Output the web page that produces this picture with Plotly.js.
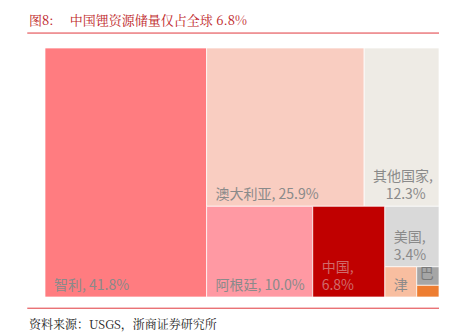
<!DOCTYPE html>
<html>
<head>
<meta charset="utf-8">
<script src="https://cdn.plot.ly/plotly-3.0.1.min.js"></script>
<style>html,body{margin:0;padding:0;background:#fff;}#chart{width:456px;height:333px;}</style>
</head>
<body>
<div id="chart"></div>
<script>
// Lithium reserves share (%), USGS
const countries = ["智利", "澳大利亚", "其他国家", "阿根廷", "中国", "美国", "津巴布韦", "巴西", "葡萄牙"];
const shares = [41.8, 25.9, 12.3, 10.0, 6.8, 3.4, 1.0, 0.43, 0.27];
const shownText = ["智利, 41.8%", "澳大利亚, 25.9%", "其他国家,<br>\u00A0\u00A0\u00A0\u00A012.3%", "阿根廷, 10.0%", "中国,<br>6.8%", "美国,<br>3.4%", "津", "巴", ""];
const colors = ["#FF7C80", "#F9CDC1", "#EEEBE5", "#FF99A3", "#C00000", "#D9D9D9", "#F8BEA0", "#A6A6A6", "#ED7D31"];
const textColors = ["#8a8a8a", "#8a8a8a", "#8a8a8a", "#8a8a8a", "#d06a6a", "#8a8a8a", "#8a8a8a", "#7a7a7a", "#8a8a8a"];

const pad = "\u00A0\u2009";
const trace = {
  type: "treemap",
  labels: countries,
  parents: countries.map(() => ""),
  values: shares,
  text: shownText.map(t => (t && t !== "巴") ? pad + t.replace("<br>", "<br>" + pad) : t),
  texttemplate: "%{text}",
  textposition: "bottom left",
  textfont: {family: "Noto Sans CJK SC, Noto Sans, sans-serif", size: 14, color: textColors},
  marker: {colors: colors, line: {width: 1, color: "rgba(255,255,255,0.7)"}, pad: {t: 0, l: 0, r: 0, b: 0}},
  tiling: {packing: "squarify", squarifyratio: 1, pad: 0},
  pathbar: {visible: false},
  sort: true,
  hoverinfo: "none",
  domain: {x: [0, 1], y: [0, 1]}
};

const layout = {
  width: 456, height: 333,
  margin: {l: 45, r: 17, t: 48, b: 36},
  paper_bgcolor: "#ffffff",
  showlegend: false,
  uniformtext: {mode: "show", minsize: 13},
  shapes: [
    {type: "line", xref: "paper", yref: "paper", x0: -0.045, x1: 1.0, y0: 1.06, y1: 1.06, line: {color: "#E0393E", width: 1}},
    {type: "line", xref: "paper", yref: "paper", x0: -0.045, x1: 1.0, y0: -0.045, y1: -0.045, line: {color: "#E0393E", width: 1}}
  ],
  annotations: [
    {text: "图8:　 中国锂资源储量仅占全球 6.8%", xref: "paper", yref: "paper", x: -0.045, y: 1.116, xanchor: "left", yanchor: "middle", showarrow: false,
     font: {family: "Noto Serif CJK SC, Noto Sans CJK SC, serif", size: 13, color: "#BE1E28"}},
    {text: "资料来源：USGS，浙商证券研究所", xref: "paper", yref: "paper", x: -0.045, y: -0.105, xanchor: "left", yanchor: "middle", showarrow: false,
     font: {family: "Noto Serif CJK SC, Noto Sans CJK SC, serif", size: 12, color: "#222222"}}
  ]
};

Plotly.newPlot("chart", [trace], layout, {displayModeBar: false, staticPlot: true});
</script>
</body>
</html>
